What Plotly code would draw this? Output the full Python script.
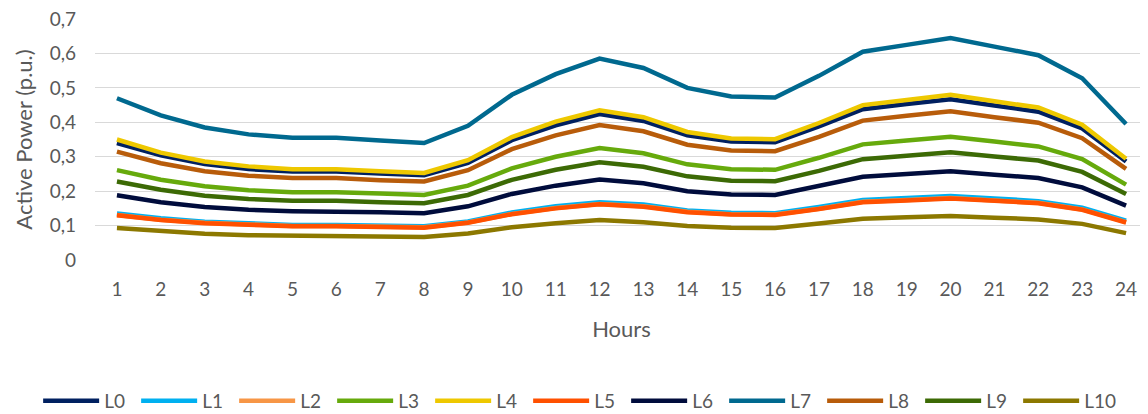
import plotly.graph_objects as go

hours = list(range(1, 25))
hour_labels = [str(h) for h in hours]

L0 = [0.34,0.304,0.279,0.264,0.257,0.257,0.251,0.246,0.282,0.348,0.391,0.424,0.404,0.362,0.344,0.342,0.388,0.438,0.453,0.467,0.449,0.431,0.382,0.286]
L1 = [0.135,0.121,0.111,0.105,0.102,0.102,0.1,0.098,0.112,0.138,0.156,0.168,0.161,0.144,0.137,0.136,0.154,0.174,0.18,0.186,0.179,0.171,0.152,0.114]
L2 = [0.131,0.117,0.108,0.102,0.099,0.099,0.097,0.095,0.109,0.134,0.151,0.163,0.156,0.14,0.133,0.132,0.149,0.169,0.174,0.18,0.173,0.166,0.147,0.11]
L3 = [0.261,0.233,0.214,0.203,0.197,0.197,0.193,0.189,0.216,0.266,0.3,0.325,0.31,0.278,0.264,0.262,0.297,0.336,0.347,0.358,0.344,0.33,0.293,0.219]
L4 = [0.35,0.312,0.286,0.272,0.264,0.264,0.258,0.253,0.29,0.357,0.402,0.435,0.415,0.372,0.353,0.351,0.398,0.45,0.465,0.48,0.461,0.443,0.393,0.294]
L5 = [0.13,0.116,0.107,0.101,0.098,0.098,0.096,0.094,0.108,0.133,0.15,0.162,0.155,0.139,0.132,0.131,0.148,0.168,0.173,0.179,0.172,0.165,0.146,0.109]
L6 = [0.188,0.168,0.154,0.146,0.142,0.142,0.139,0.136,0.156,0.192,0.216,0.234,0.223,0.2,0.19,0.189,0.214,0.242,0.25,0.258,0.248,0.238,0.211,0.158]
L7 = [0.47,0.42,0.385,0.365,0.355,0.355,0.347,0.34,0.39,0.48,0.54,0.585,0.558,0.5,0.475,0.472,0.535,0.605,0.625,0.645,0.62,0.595,0.528,0.395]
L8 = [0.315,0.281,0.258,0.245,0.238,0.238,0.232,0.228,0.261,0.322,0.362,0.392,0.374,0.335,0.318,0.316,0.358,0.405,0.419,0.432,0.415,0.399,0.354,0.265]
L9 = [0.228,0.204,0.187,0.177,0.172,0.172,0.168,0.165,0.189,0.233,0.262,0.284,0.271,0.243,0.23,0.229,0.259,0.293,0.303,0.313,0.301,0.289,0.256,0.192]
L10 = [0.093,0.083,0.076,0.072,0.07,0.07,0.069,0.067,0.077,0.095,0.107,0.116,0.11,0.099,0.094,0.093,0.106,0.12,0.124,0.128,0.123,0.118,0.105,0.078]

series_names = ["L0", "L1", "L2", "L3", "L4", "L5", "L6", "L7", "L8", "L9", "L10"]
series_values = [L0, L1, L2, L3, L4, L5, L6, L7, L8, L9, L10]
colors = ["#002060", "#00B0F0", "#F79646", "#66AA0C", "#EEC800", "#FF5000",
          "#000C3C", "#00698F", "#B85C0A", "#3C6A05", "#8C7800"]

y_tickvals = [0, 0.1, 0.2, 0.3, 0.4, 0.5, 0.6, 0.7]
y_ticktext = ["0", "0,1", "0,2", "0,3", "0,4", "0,5", "0,6", "0,7"]

FONT = "Lato"
GREY = "#595959"

fig = go.Figure()
for name, vals, col in zip(series_names, series_values, colors):
    fig.add_trace(go.Scatter(x=hours, y=vals, name=name, mode="lines",
                             line=dict(color=col, width=4.5)))

fig.update_layout(
    width=1140, height=406,
    margin=dict(l=87, r=0, t=11, b=154, autoexpand=False),
    plot_bgcolor="white", paper_bgcolor="white",
    font=dict(family=FONT, color=GREY, size=19),
    showlegend=True,
    legend=dict(orientation="h", xref="paper", yref="paper",
                x=-0.054, y=-0.585, xanchor="left", yanchor="middle",
                font=dict(size=19, color=GREY), entrywidth=27,
                tracegroupgap=0, itemwidth=56),
    xaxis=dict(range=[0.5, 24.5], tickvals=hours, ticktext=hour_labels,
               showgrid=False, zeroline=False, showline=False,
               ticks="", ticklabelstandoff=16,
               title=dict(text="Hours", font=dict(size=22, color=GREY), standoff=22)),
    yaxis=dict(range=[0, 0.7002], tickvals=y_tickvals, ticktext=y_ticktext,
               showgrid=True, gridcolor="#D9D9D9", gridwidth=1,
               zeroline=False, showline=False, ticks="", ticklabelstandoff=18,
               ticklabeloverflow="allow",
               title=dict(text="Active Power (p.u.)", font=dict(size=22, color=GREY), standoff=10)),
)

fig.write_html("out.html")
